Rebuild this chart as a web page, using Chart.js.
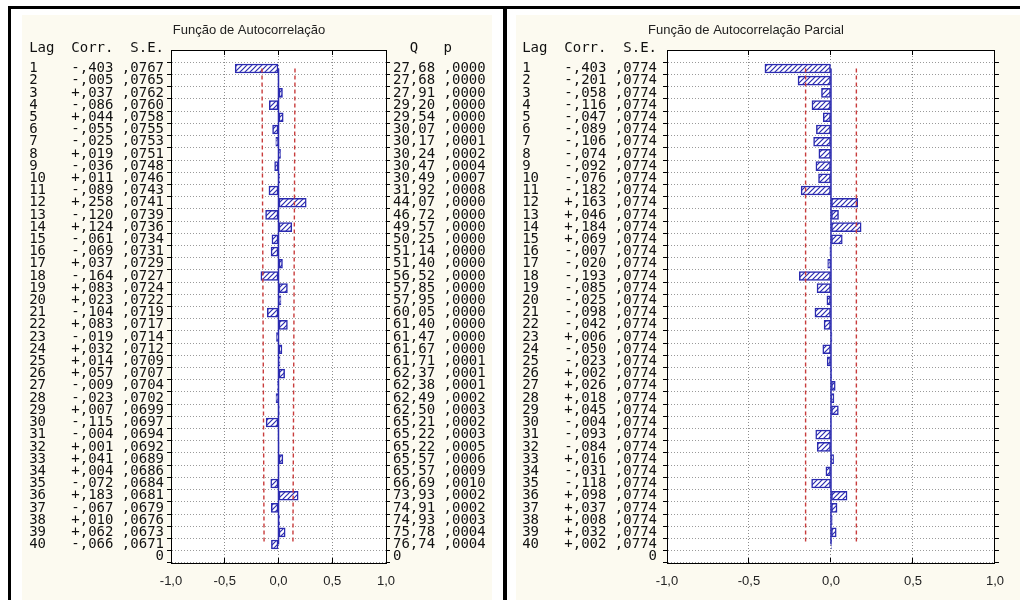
<!DOCTYPE html>
<html><head><meta charset="utf-8">
<script src="https://cdn.jsdelivr.net/npm/chart.js@4.4.0/dist/chart.umd.min.js"></script>
<style>
html,body{margin:0;padding:0;background:#fff;width:1020px;height:600px;overflow:hidden;position:relative}
#frame{position:absolute;left:8px;top:6px;width:1012px;height:594px;border-top:3px solid #000;border-left:3px solid #000;box-sizing:border-box}
#divider{position:absolute;left:503px;top:6px;width:4px;height:594px;background:#000}
.cream{position:absolute;background:#fcfaf0}
canvas{position:absolute}
</style></head>
<body>
<div id="frame"></div>
<div class="cream" style="left:22px;top:15px;width:470px;height:585px"></div>
<div id="divider"></div>
<div class="cream" style="left:516px;top:15px;width:504px;height:585px"></div>
<canvas id="acf" width="490" height="588" style="left:12px;top:10px"></canvas>
<canvas id="pacf" width="508" height="588" style="left:512px;top:10px"></canvas>
<script>
// ---------- data ----------
const lags = [1,2,3,4,5,6,7,8,9,10,11,12,13,14,15,16,17,18,19,20,21,22,23,24,25,26,27,28,29,30,31,32,33,34,35,36,37,38,39,40];
const acfCorr = [-0.403,-0.005,0.037,-0.086,0.044,-0.055,-0.025,0.019,-0.036,0.011,-0.089,0.258,-0.120,0.124,-0.061,-0.069,0.037,-0.164,0.083,0.023,-0.104,0.083,-0.019,0.032,0.014,0.057,-0.009,-0.023,0.007,-0.115,-0.004,0.001,0.041,0.004,-0.072,0.183,-0.067,0.010,0.062,-0.066];
const acfSE = [0.0767,0.0765,0.0762,0.0760,0.0758,0.0755,0.0753,0.0751,0.0748,0.0746,0.0743,0.0741,0.0739,0.0736,0.0734,0.0731,0.0729,0.0727,0.0724,0.0722,0.0719,0.0717,0.0714,0.0712,0.0709,0.0707,0.0704,0.0702,0.0699,0.0697,0.0694,0.0692,0.0689,0.0686,0.0684,0.0681,0.0679,0.0676,0.0673,0.0671];
const acfQ = [27.68,27.68,27.91,29.20,29.54,30.07,30.17,30.24,30.47,30.49,31.92,44.07,46.72,49.57,50.25,51.14,51.40,56.52,57.85,57.95,60.05,61.40,61.47,61.67,61.71,62.37,62.38,62.49,62.50,65.21,65.22,65.22,65.57,65.57,66.69,73.93,74.91,74.93,75.78,76.74];
const acfP = [0.0000,0.0000,0.0000,0.0000,0.0000,0.0000,0.0001,0.0002,0.0004,0.0007,0.0008,0.0000,0.0000,0.0000,0.0000,0.0000,0.0000,0.0000,0.0000,0.0000,0.0000,0.0000,0.0000,0.0000,0.0001,0.0001,0.0001,0.0002,0.0003,0.0002,0.0003,0.0005,0.0006,0.0009,0.0010,0.0002,0.0002,0.0003,0.0004,0.0004];
const pacfCorr = [-0.403,-0.201,-0.058,-0.116,-0.047,-0.089,-0.106,-0.074,-0.092,-0.076,-0.182,0.163,0.046,0.184,0.069,-0.007,-0.020,-0.193,-0.085,-0.025,-0.098,-0.042,0.006,-0.050,-0.023,0.002,0.026,0.018,0.045,-0.004,-0.093,-0.084,0.016,-0.031,-0.118,0.098,0.037,0.008,0.032,0.002];
const pacfSE = [0.0774,0.0774,0.0774,0.0774,0.0774,0.0774,0.0774,0.0774,0.0774,0.0774,0.0774,0.0774,0.0774,0.0774,0.0774,0.0774,0.0774,0.0774,0.0774,0.0774,0.0774,0.0774,0.0774,0.0774,0.0774,0.0774,0.0774,0.0774,0.0774,0.0774,0.0774,0.0774,0.0774,0.0774,0.0774,0.0774,0.0774,0.0774,0.0774,0.0774];
const xTickValues = [-1, -0.5, 0, 0.5, 1];
const bottomTickLabel = '0';
const titleACF = 'Função de Autocorrelação';
const titlePACF = 'Função de Autocorrelação Parcial';
const headerLeft = 'Lag  Corr.  S.E.';
const headerRight = '  Q   p';
const limitMultiplier = 2;

// ---------- helpers ----------
const BLUE = '#2b2bb0';
const RED = '#c83c3c';
const MONO = '"DejaVu Sans Mono"';
const fmtCorr = v => (v < 0 ? '-' : '+') + ',' + Math.abs(v).toFixed(3).slice(2);
const fmtFrac4 = v => ',' + v.toFixed(4).slice(2);
const fmtQ = v => v.toFixed(2).replace('.', ',');
const fmtAxis = v => v.toFixed(1).replace('.', ',');

function hatch() {
  const c = document.createElement('canvas'); c.width = 5; c.height = 5;
  const g = c.getContext('2d');
  g.fillStyle = '#fff'; g.fillRect(0, 0, 5, 5);
  g.strokeStyle = BLUE; g.lineWidth = 1.2;
  g.beginPath();
  g.moveTo(-1, 6); g.lineTo(6, -1);
  g.moveTo(-1, 1); g.lineTo(1, -1);
  g.moveTo(4, 6); g.lineTo(6, 4);
  g.stroke();
  return g.createPattern(c, 'repeat');
}

const decor = {
  id: 'decor',
  beforeDraw(chart) {
    const {ctx, chartArea: a} = chart;
    ctx.save(); ctx.fillStyle = '#fff';
    ctx.fillRect(a.left, a.top, a.right - a.left, a.bottom - a.top);
    ctx.restore();
  },
  afterDraw(chart, args, o) {
    const {ctx, chartArea: a} = chart;
    ctx.save();
    ctx.fillStyle = '#222';
    ctx.font = '13px "Liberation Sans"';
    ctx.textAlign = 'center'; ctx.textBaseline = 'middle';
    ctx.fillText(o.title, o.titleX, o.titleY);
    ctx.font = '14px ' + MONO;
    ctx.fillStyle = '#111';
    ctx.textBaseline = 'alphabetic';
    ctx.textAlign = 'right';
    ctx.fillText(o.leftHeader, a.left - o.leftGap, a.top + 2);
    if (o.rightHeader) {
      ctx.textAlign = 'left';
      ctx.fillText(o.rightHeader, a.right + 7, a.top + 2);
    }
    ctx.restore();
  }
};

function build(id, cfg) {
  const tickVals = lags.concat([lags.length + 1]);
  const setTicks = axis => { axis.ticks = tickVals.map(v => ({value: v})); };
  const leftLabel = v => {
    const i = lags.indexOf(v);
    if (i < 0) return bottomTickLabel;
    return String(lags[i]).padEnd(2) + '   ' + fmtCorr(cfg.corr[i]) + ' ' + fmtFrac4(cfg.se[i]);
  };
  const rightLabel = v => {
    if (!cfg.q) return '';
    const i = lags.indexOf(v);
    if (i < 0) return bottomTickLabel;
    return fmtQ(cfg.q[i]) + ' ' + fmtFrac4(cfg.p[i]);
  };
  const monoFont = {family: 'DejaVu Sans Mono', size: 14};
  const yGrid = {color: '#9a9a9a', lineWidth: 1, tickColor: '#000', tickLength: 4};
  const yBorder = {display: true, color: '#000', width: 1, dash: [1, 2]};
  return new Chart(document.getElementById(id), {
    type: 'bar',
    data: {
      datasets: [
        {type: 'line', label: 'limite +', data: lags.map((l, i) => ({x: limitMultiplier * cfg.se[i], y: l})),
         borderColor: RED, borderWidth: 1.4, borderDash: [4, 3], pointRadius: 0, fill: false, order: 0, indexAxis: 'y'},
        {type: 'line', label: 'limite -', data: lags.map((l, i) => ({x: -limitMultiplier * cfg.se[i], y: l})),
         borderColor: RED, borderWidth: 1.4, borderDash: [4, 3], pointRadius: 0, fill: false, order: 0, indexAxis: 'y'},
        {type: 'line', label: 'zero', data: lags.map(l => ({x: 0, y: l})),
         borderColor: BLUE, borderWidth: 1.5, pointRadius: 0, fill: false, order: 1, indexAxis: 'y'},
        {type: 'bar', label: 'Corr.', data: lags.map((l, i) => ({x: cfg.corr[i], y: l})),
         backgroundColor: hatch(), borderColor: BLUE, borderWidth: 1.5, borderSkipped: false,
         barThickness: 9, order: 2}
      ]
    },
    options: {
      indexAxis: 'y', responsive: false, animation: false, devicePixelRatio: 1,
      layout: {padding: {top: 40, left: 0, right: 0, bottom: 0}},
      plugins: {
        legend: {display: false}, tooltip: {enabled: false},
        decor: {title: cfg.title, titleX: cfg.titleX, titleY: 20, leftHeader: headerLeft,
                rightHeader: cfg.q ? headerRight : null, leftGap: cfg.leftGap}
      },
      scales: {
        x: {
          type: 'linear', position: 'bottom', min: -1, max: 1,
          afterBuildTicks: axis => { axis.ticks = xTickValues.map(v => ({value: v})); },
          afterFit: axis => { axis.height = 35; },
          ticks: {callback: v => fmtAxis(v), font: {family: 'Liberation Sans', size: 13}, color: '#222', padding: 16, maxRotation: 0},
          grid: {color: '#8c8c8c', lineWidth: 1, tickColor: '#000', tickLength: -5},
          border: {display: true, color: '#000', width: 1, dash: [1, 2]}
        },
        x2: {
          type: 'linear', position: 'top', min: -1, max: 1,
          afterBuildTicks: axis => { axis.ticks = xTickValues.map(v => ({value: v})); },
          afterFit: axis => { axis.height = 0; },
          ticks: {display: false},
          grid: {drawOnChartArea: false, tickColor: '#000', tickLength: -5},
          border: {display: true, color: '#000', width: 1}
        },
        y: {
          type: 'linear', position: 'left', reverse: true, min: 0, max: lags.length + 1,
          afterBuildTicks: setTicks,
          afterFit: axis => { axis.width = cfg.leftWidth; },
          ticks: {autoSkip: false, callback: leftLabel, font: monoFont, color: '#111', padding: cfg.leftPad},
          grid: yGrid, border: yBorder
        },
        y2: {
          type: 'linear', position: 'right', reverse: true, min: 0, max: lags.length + 1,
          afterBuildTicks: setTicks,
          afterFit: axis => { axis.width = cfg.rightWidth; },
          ticks: {autoSkip: false, callback: rightLabel, font: monoFont, color: '#111', padding: 3},
          grid: {drawOnChartArea: false, tickColor: '#000', tickLength: 4},
          border: {display: true, color: '#000', width: 1}
        }
      }
    },
    plugins: [decor]
  });
}

build('acf', {corr: acfCorr, se: acfSE, q: acfQ, p: acfP, title: titleACF, titleX: 237,
              leftWidth: 159, rightWidth: 116, leftPad: 3, leftGap: 7});
build('pacf', {corr: pacfCorr, se: pacfSE, q: null, p: null, title: titlePACF, titleX: 234,
               leftWidth: 155, rightWidth: 21, leftPad: 6, leftGap: 10});
</script>
</body></html>
